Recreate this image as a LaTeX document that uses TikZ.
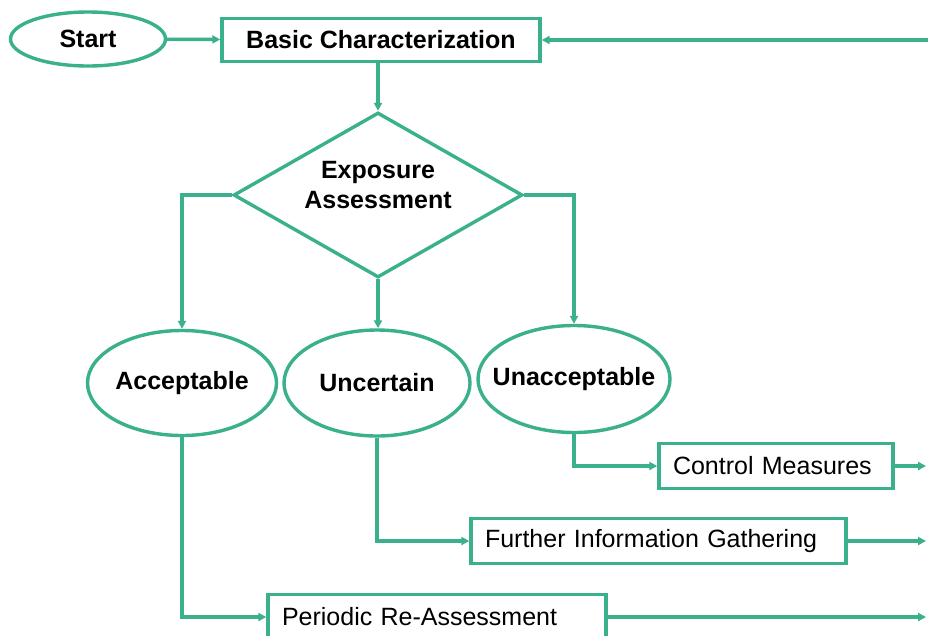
\documentclass[tikz,border=0pt]{standalone}
\usepackage{fontspec}
\setmainfont{Liberation Sans}
\usetikzlibrary{shapes.geometric,arrows.meta}
\definecolor{flowgreen}{RGB}{58,176,140}
\begin{document}
\begin{tikzpicture}[x=1pt,y=-1pt,
  every node/.style={font=\fontsize{25}{30}\selectfont},
  flowline/.style={draw=flowgreen,line width=3.4pt},
  flowarrow/.style={flowline,-{Triangle[length=8pt,width=8pt]}},
  oval/.style={ellipse,draw=flowgreen,line width=3.4pt,inner xsep=-30pt,inner ysep=0pt,font=\fontsize{25}{30}\selectfont\bfseries},
  boldbox/.style={rectangle,draw=flowgreen,line width=3.4pt,inner sep=0pt,font=\fontsize{25}{30}\selectfont\bfseries},
  plainbox/.style={rectangle,draw=flowgreen,line width=3.4pt,inner xsep=14pt,inner ysep=0pt,align=left,minimum height=45pt},
  decision/.style={diamond,draw=flowgreen,line width=3.4pt,inner sep=0pt,aspect=1.75,minimum width=289pt,minimum height=165pt}
]
\clip (0,0) rectangle (928,635);
\fill[white] (0,0) rectangle (928,635);

% top row
\node[oval,minimum width=155pt,minimum height=54pt] (start) at (88,39) {Start};
\node[boldbox,minimum width=318pt,minimum height=43pt] (bc) at (381,40) {Basic Characterization};
\coordinate (loopin) at (935,40);

% decision
\node[decision] (ea) at (378,195) {};
\node[align=center,font=\fontsize{25}{30}\selectfont\bfseries] (ealabel) at (378,185) {Exposure\\Assessment};

% outcomes
\node[oval,minimum width=189pt,minimum height=105pt] (acc) at (182,383) {Acceptable};
\node[oval,minimum width=186pt,minimum height=106pt] (unc) at (377,383) {Uncertain};
\node[oval,minimum width=192pt,minimum height=107pt] (unacc) at (574,379) {Unacceptable};

% follow-up actions
\node[plainbox,text width=206pt] (cm) at (776,466) {Control Measures};
\node[plainbox,text width=347pt] (fig) at (658.5,541) {Further Information Gathering};
\node[plainbox,text width=310pt] (pra) at (437,617) {Periodic Re-Assessment};
\coordinate (cmout) at (926,466);
\coordinate (figout) at (926,541);
\coordinate (praout) at (926,617);

% connectors
\draw[flowarrow] (start) -- (bc);
\draw[flowarrow] (loopin) -- (bc.east);
\draw[flowarrow] (bc.south -| ea.north) -- (ea.north);
\draw[flowarrow] (ea.west) -| (acc.north);
\draw[flowarrow] (ea.south) -- (ea.south |- unc.north);
\draw[flowarrow] (ea.east) -| (unacc.north);
\draw[flowarrow] (acc.south) |- (pra.west);
\draw[flowarrow] (unc.south) |- (fig.west);
\draw[flowarrow] (unacc.south) |- (cm.west);
\draw[flowarrow] (cm.east) -- (cmout);
\draw[flowarrow] (fig.east) -- (figout);
\draw[flowarrow] (pra.east) -- (praout);
\end{tikzpicture}
\end{document}
